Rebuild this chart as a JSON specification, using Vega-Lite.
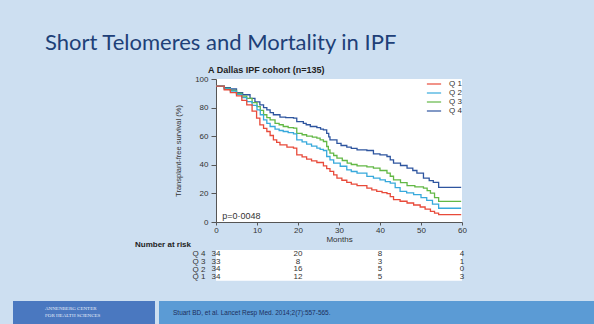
{
  "$schema": "https://vega.github.io/schema/vega-lite/v6.json",
  "background": "#cddff1",
  "padding": {"left": 13, "top": 32, "right": 0, "bottom": 0},
  "title": {"text": "Short Telomeres and Mortality in IPF", "anchor": "start", "frame": "group", "dx": 32, "offset": 11, "font": "Lato", "fontSize": 22, "fontWeight": "normal", "color": "#203f78"},
  "config": {"font": "Liberation Sans", "view": {"stroke": null}, "axis": {"labelOverlap": false}},
  "spacing": 20,
  "resolve": {"scale": {"color": "independent", "x": "independent", "y": "independent"}, "legend": {"color": "independent"}},
  "vconcat": [
    {
      "spacing": 0,
      "resolve": {"scale": {"color": "independent", "x": "independent", "y": "independent"}, "legend": {"color": "independent"}},
      "hconcat": [
        {
          "width": 122,
          "height": 1,
          "view": {"fill": null, "stroke": null},
          "data": {"values": []},
          "mark": "point"
        },
        {
          "spacing": -3,
          "resolve": {"scale": {"color": "independent", "x": "independent", "y": "independent"}, "legend": {"color": "independent"}},
          "vconcat": [
            {
              "width": 246,
              "height": 143,
              "view": {"fill": "white", "stroke": null},
              "title": {"text": "A   Dallas IPF cohort (n=135)", "anchor": "start", "frame": "group", "dx": -8, "offset": 0, "fontSize": 9, "fontWeight": "bold", "color": "#222222", "font": "Liberation Sans"},
              "layer": [
                {
                  "data": {"values": [
                    {"quartile": "Q 4", "month": 0, "survival": 95}, {"quartile": "Q 4", "month": 2, "survival": 94}, {"quartile": "Q 4", "month": 3.5, "survival": 93}, {"quartile": "Q 4", "month": 5, "survival": 90.5}, {"quartile": "Q 4", "month": 6.5, "survival": 89}, {"quartile": "Q 4", "month": 8.3, "survival": 86.5}, {"quartile": "Q 4", "month": 9.5, "survival": 84}, {"quartile": "Q 4", "month": 10.7, "survival": 81.9}, {"quartile": "Q 4", "month": 11.6, "survival": 80}, {"quartile": "Q 4", "month": 12.4, "survival": 78.4}, {"quartile": "Q 4", "month": 13.2, "survival": 76.5}, {"quartile": "Q 4", "month": 14, "survival": 75}, {"quartile": "Q 4", "month": 15.6, "survival": 73.3}, {"quartile": "Q 4", "month": 17, "survival": 73}, {"quartile": "Q 4", "month": 18.9, "survival": 72.6}, {"quartile": "Q 4", "month": 19.7, "survival": 70.2}, {"quartile": "Q 4", "month": 21.3, "survival": 69}, {"quartile": "Q 4", "month": 22, "survival": 68}, {"quartile": "Q 4", "month": 23, "survival": 66.8}, {"quartile": "Q 4", "month": 24.6, "survival": 66}, {"quartile": "Q 4", "month": 25.5, "survival": 65}, {"quartile": "Q 4", "month": 26.2, "survival": 64.4}, {"quartile": "Q 4", "month": 27, "survival": 62}, {"quartile": "Q 4", "month": 27.5, "survival": 59.5}, {"quartile": "Q 4", "month": 27.8, "survival": 57.5}, {"quartile": "Q 4", "month": 29.5, "survival": 55}, {"quartile": "Q 4", "month": 30.5, "survival": 53.5}, {"quartile": "Q 4", "month": 31.9, "survival": 52.3}, {"quartile": "Q 4", "month": 33, "survival": 51.5}, {"quartile": "Q 4", "month": 34.4, "survival": 50.5}, {"quartile": "Q 4", "month": 36.8, "survival": 50}, {"quartile": "Q 4", "month": 38.4, "survival": 47.7}, {"quartile": "Q 4", "month": 40, "survival": 47}, {"quartile": "Q 4", "month": 41.7, "survival": 45.8}, {"quartile": "Q 4", "month": 42.5, "survival": 43.5}, {"quartile": "Q 4", "month": 43.3, "survival": 41.2}, {"quartile": "Q 4", "month": 45, "survival": 39.5}, {"quartile": "Q 4", "month": 46.6, "survival": 37.7}, {"quartile": "Q 4", "month": 48, "survival": 36}, {"quartile": "Q 4", "month": 49, "survival": 34.2}, {"quartile": "Q 4", "month": 50.6, "survival": 30.7}, {"quartile": "Q 4", "month": 52, "survival": 29}, {"quartile": "Q 4", "month": 53, "survival": 27.7}, {"quartile": "Q 4", "month": 54.3, "survival": 24.2}, {"quartile": "Q 4", "month": 59.8, "survival": 24.2},
                    {"quartile": "Q 3", "month": 0, "survival": 95}, {"quartile": "Q 3", "month": 2, "survival": 93.5}, {"quartile": "Q 3", "month": 3.5, "survival": 92}, {"quartile": "Q 3", "month": 5, "survival": 90}, {"quartile": "Q 3", "month": 6.3, "survival": 88}, {"quartile": "Q 3", "month": 7.5, "survival": 86.5}, {"quartile": "Q 3", "month": 8.8, "survival": 83.5}, {"quartile": "Q 3", "month": 10, "survival": 80.7}, {"quartile": "Q 3", "month": 10.8, "survival": 78}, {"quartile": "Q 3", "month": 11.6, "survival": 75}, {"quartile": "Q 3", "month": 12.4, "survival": 73}, {"quartile": "Q 3", "month": 13.2, "survival": 71.4}, {"quartile": "Q 3", "month": 14.4, "survival": 69}, {"quartile": "Q 3", "month": 15.4, "survival": 68}, {"quartile": "Q 3", "month": 16.4, "survival": 66.8}, {"quartile": "Q 3", "month": 17.6, "survival": 66}, {"quartile": "Q 3", "month": 18.9, "survival": 65.6}, {"quartile": "Q 3", "month": 19.7, "survival": 62}, {"quartile": "Q 3", "month": 21, "survival": 61}, {"quartile": "Q 3", "month": 22.1, "survival": 60}, {"quartile": "Q 3", "month": 23.5, "survival": 59.3}, {"quartile": "Q 3", "month": 24.6, "survival": 58.6}, {"quartile": "Q 3", "month": 25.4, "survival": 57.5}, {"quartile": "Q 3", "month": 26.2, "survival": 56.3}, {"quartile": "Q 3", "month": 27, "survival": 52.8}, {"quartile": "Q 3", "month": 27.4, "survival": 50.5}, {"quartile": "Q 3", "month": 27.8, "survival": 48.1}, {"quartile": "Q 3", "month": 28.7, "survival": 46.5}, {"quartile": "Q 3", "month": 29.5, "survival": 44.7}, {"quartile": "Q 3", "month": 30.8, "survival": 43}, {"quartile": "Q 3", "month": 32, "survival": 41.2}, {"quartile": "Q 3", "month": 33, "survival": 40.2}, {"quartile": "Q 3", "month": 34.4, "survival": 39.3}, {"quartile": "Q 3", "month": 36.8, "survival": 38.5}, {"quartile": "Q 3", "month": 38.4, "survival": 37.7}, {"quartile": "Q 3", "month": 40, "survival": 36}, {"quartile": "Q 3", "month": 41.7, "survival": 34.2}, {"quartile": "Q 3", "month": 42.5, "survival": 32}, {"quartile": "Q 3", "month": 43.3, "survival": 29.5}, {"quartile": "Q 3", "month": 45, "survival": 27.5}, {"quartile": "Q 3", "month": 46.6, "survival": 25.4}, {"quartile": "Q 3", "month": 48.5, "survival": 24.5}, {"quartile": "Q 3", "month": 50.6, "survival": 23.7}, {"quartile": "Q 3", "month": 51.5, "survival": 22}, {"quartile": "Q 3", "month": 52.3, "survival": 20.2}, {"quartile": "Q 3", "month": 53.3, "survival": 17}, {"quartile": "Q 3", "month": 54.3, "survival": 14.4}, {"quartile": "Q 3", "month": 59.8, "survival": 14.4},
                    {"quartile": "Q 2", "month": 0, "survival": 95}, {"quartile": "Q 2", "month": 2, "survival": 93}, {"quartile": "Q 2", "month": 3.5, "survival": 91.5}, {"quartile": "Q 2", "month": 5, "survival": 89.3}, {"quartile": "Q 2", "month": 6.3, "survival": 87}, {"quartile": "Q 2", "month": 7.5, "survival": 84.2}, {"quartile": "Q 2", "month": 8.8, "survival": 81.5}, {"quartile": "Q 2", "month": 10, "survival": 78.4}, {"quartile": "Q 2", "month": 10.8, "survival": 75}, {"quartile": "Q 2", "month": 11.6, "survival": 71.4}, {"quartile": "Q 2", "month": 12.4, "survival": 69}, {"quartile": "Q 2", "month": 13.2, "survival": 66.8}, {"quartile": "Q 2", "month": 14.4, "survival": 64.9}, {"quartile": "Q 2", "month": 15.4, "survival": 64}, {"quartile": "Q 2", "month": 16.4, "survival": 63.3}, {"quartile": "Q 2", "month": 17.6, "survival": 62.5}, {"quartile": "Q 2", "month": 18.9, "survival": 61.6}, {"quartile": "Q 2", "month": 19.7, "survival": 57.5}, {"quartile": "Q 2", "month": 21, "survival": 56}, {"quartile": "Q 2", "month": 22.1, "survival": 54.4}, {"quartile": "Q 2", "month": 23.3, "survival": 53}, {"quartile": "Q 2", "month": 24.6, "survival": 51.6}, {"quartile": "Q 2", "month": 25.4, "survival": 50.8}, {"quartile": "Q 2", "month": 26.2, "survival": 50}, {"quartile": "Q 2", "month": 27, "survival": 45.8}, {"quartile": "Q 2", "month": 27.8, "survival": 43.5}, {"quartile": "Q 2", "month": 28.7, "survival": 41.2}, {"quartile": "Q 2", "month": 30.3, "survival": 39}, {"quartile": "Q 2", "month": 31.9, "survival": 36.5}, {"quartile": "Q 2", "month": 33, "survival": 35.3}, {"quartile": "Q 2", "month": 34.4, "survival": 34.2}, {"quartile": "Q 2", "month": 36.8, "survival": 31.9}, {"quartile": "Q 2", "month": 38.4, "survival": 30.7}, {"quartile": "Q 2", "month": 40, "survival": 29.5}, {"quartile": "Q 2", "month": 41.3, "survival": 28.3}, {"quartile": "Q 2", "month": 42.5, "survival": 27.2}, {"quartile": "Q 2", "month": 43.7, "survival": 24}, {"quartile": "Q 2", "month": 44.9, "survival": 21.4}, {"quartile": "Q 2", "month": 46.5, "survival": 20.3}, {"quartile": "Q 2", "month": 48.2, "survival": 19.1}, {"quartile": "Q 2", "month": 50, "survival": 17}, {"quartile": "Q 2", "month": 51.4, "survival": 15.1}, {"quartile": "Q 2", "month": 52.8, "survival": 12.5}, {"quartile": "Q 2", "month": 54.3, "survival": 9.6}, {"quartile": "Q 2", "month": 59.8, "survival": 9.6},
                    {"quartile": "Q 1", "month": 0, "survival": 95}, {"quartile": "Q 1", "month": 2, "survival": 92.5}, {"quartile": "Q 1", "month": 3.5, "survival": 90.5}, {"quartile": "Q 1", "month": 5, "survival": 88.2}, {"quartile": "Q 1", "month": 6.3, "survival": 85}, {"quartile": "Q 1", "month": 7.5, "survival": 81.9}, {"quartile": "Q 1", "month": 8.8, "survival": 77.5}, {"quartile": "Q 1", "month": 9.9, "survival": 72.6}, {"quartile": "Q 1", "month": 10.7, "survival": 67.9}, {"quartile": "Q 1", "month": 11.6, "survival": 65.5}, {"quartile": "Q 1", "month": 12.4, "survival": 63.3}, {"quartile": "Q 1", "month": 13.2, "survival": 60.5}, {"quartile": "Q 1", "month": 14, "survival": 57.5}, {"quartile": "Q 1", "month": 14.8, "survival": 55.7}, {"quartile": "Q 1", "month": 15.6, "survival": 54}, {"quartile": "Q 1", "month": 17.3, "survival": 52.3}, {"quartile": "Q 1", "month": 18.9, "survival": 51.6}, {"quartile": "Q 1", "month": 19.7, "survival": 47}, {"quartile": "Q 1", "month": 21, "survival": 45.5}, {"quartile": "Q 1", "month": 22.1, "survival": 44}, {"quartile": "Q 1", "month": 23.3, "survival": 42.8}, {"quartile": "Q 1", "month": 24.6, "survival": 41.6}, {"quartile": "Q 1", "month": 26.2, "survival": 39.3}, {"quartile": "Q 1", "month": 27, "survival": 37.3}, {"quartile": "Q 1", "month": 27.8, "survival": 35.4}, {"quartile": "Q 1", "month": 28.7, "survival": 33}, {"quartile": "Q 1", "month": 29.5, "survival": 30.7}, {"quartile": "Q 1", "month": 30.7, "survival": 29.2}, {"quartile": "Q 1", "month": 31.9, "survival": 27.7}, {"quartile": "Q 1", "month": 33, "survival": 26.5}, {"quartile": "Q 1", "month": 34.4, "survival": 25.4}, {"quartile": "Q 1", "month": 36.8, "survival": 23.7}, {"quartile": "Q 1", "month": 38, "survival": 22.5}, {"quartile": "Q 1", "month": 39.2, "survival": 21.4}, {"quartile": "Q 1", "month": 40.5, "survival": 20.5}, {"quartile": "Q 1", "month": 41.7, "survival": 19.8}, {"quartile": "Q 1", "month": 42.5, "survival": 17.7}, {"quartile": "Q 1", "month": 43.3, "survival": 15.6}, {"quartile": "Q 1", "month": 44.9, "survival": 14.5}, {"quartile": "Q 1", "month": 46.6, "survival": 13.3}, {"quartile": "Q 1", "month": 48.2, "survival": 11.9}, {"quartile": "Q 1", "month": 49.8, "survival": 10.5}, {"quartile": "Q 1", "month": 51, "survival": 9}, {"quartile": "Q 1", "month": 52.3, "survival": 7.4}, {"quartile": "Q 1", "month": 53.3, "survival": 6.2}, {"quartile": "Q 1", "month": 54.3, "survival": 5.1}, {"quartile": "Q 1", "month": 59.8, "survival": 5.1}
                  ]},
                  "mark": {"type": "line", "interpolate": "step-after", "strokeWidth": 1.3},
                  "encoding": {
                    "x": {"field": "month", "type": "quantitative", "scale": {"domain": [0, 60], "nice": false},
                          "axis": {"values": [0, 10, 20, 30, 40, 50, 60], "title": "Months", "titleFontSize": 8, "titleFontWeight": "normal", "titlePadding": 1, "titleColor": "#333333", "labelFontSize": 8, "labelColor": "#333333", "labelPadding": 1, "tickSize": 3, "grid": false, "domainColor": "#555555", "tickColor": "#555555", "labelFlush": false, "labelOverlap": false}},
                    "y": {"field": "survival", "type": "quantitative", "scale": {"domain": [0, 100], "nice": false},
                          "axis": {"values": [0, 20, 40, 60, 80, 100], "title": "Transplant-free survival (%)", "titleFontSize": 7.5, "titleFontWeight": "normal", "titlePadding": 12, "titleColor": "#333333", "labelFontSize": 8, "labelColor": "#333333", "labelPadding": 3, "tickSize": 5, "grid": false, "domainColor": "#555555", "tickColor": "#555555", "labelOverlap": false, "labelFlush": false}},
                    "color": {"field": "quartile", "type": "nominal",
                              "scale": {"domain": ["Q 1", "Q 2", "Q 3", "Q 4"], "range": ["#e84a3a", "#37a9dc", "#62b845", "#2e559f"]},
                              "legend": {"title": null, "orient": "top-right", "offset": 0, "padding": 0, "labelFontSize": 8, "labelColor": "#333333", "symbolType": "M-1.7,0H1.7", "symbolSize": 70, "symbolStrokeWidth": 1.2, "rowPadding": 0, "labelOffset": 10}}
                  }
                },
                {
                  "data": {"values": [{"label": "p=0·0048"}]},
                  "mark": {"type": "text", "align": "left", "baseline": "middle", "fontSize": 9, "color": "#333333"},
                  "encoding": {
                    "x": {"datum": 1.5, "type": "quantitative",
                          "axis": {"values": [0, 10, 20, 30, 40, 50, 60], "title": "Months", "titleFontSize": 8, "titleFontWeight": "normal", "titlePadding": 1, "titleColor": "#333333", "labelFontSize": 8, "labelColor": "#333333", "labelPadding": 1, "tickSize": 3, "grid": false, "domainColor": "#555555", "tickColor": "#555555", "labelFlush": false, "labelOverlap": false}},
                    "y": {"datum": 4.5, "type": "quantitative",
                          "axis": {"values": [0, 20, 40, 60, 80, 100], "title": "Transplant-free survival (%)", "titleFontSize": 7.5, "titleFontWeight": "normal", "titlePadding": 12, "titleColor": "#333333", "labelFontSize": 8, "labelColor": "#333333", "labelPadding": 3, "tickSize": 5, "grid": false, "domainColor": "#555555", "tickColor": "#555555", "labelOverlap": false, "labelFlush": false}},
                    "text": {"field": "label"}
                  }
                }
              ]
            },
            {
              "width": 246,
              "height": 30.8,
              "view": {"fill": "white", "stroke": null},
              "title": {"text": "Number at risk", "anchor": "start", "frame": "group", "dx": -81, "offset": 1, "fontSize": 8, "fontWeight": "bold", "color": "#222222"},
              "data": {"values": [
                {"quartile": "Q 4", "month": 0, "n": 34}, {"quartile": "Q 4", "month": 20, "n": 20}, {"quartile": "Q 4", "month": 40, "n": 8}, {"quartile": "Q 4", "month": 60, "n": 4},
                {"quartile": "Q 3", "month": 0, "n": 33}, {"quartile": "Q 3", "month": 20, "n": 8}, {"quartile": "Q 3", "month": 40, "n": 3}, {"quartile": "Q 3", "month": 60, "n": 1},
                {"quartile": "Q 2", "month": 0, "n": 34}, {"quartile": "Q 2", "month": 20, "n": 16}, {"quartile": "Q 2", "month": 40, "n": 5}, {"quartile": "Q 2", "month": 60, "n": 0},
                {"quartile": "Q 1", "month": 0, "n": 34}, {"quartile": "Q 1", "month": 20, "n": 12}, {"quartile": "Q 1", "month": 40, "n": 5}, {"quartile": "Q 1", "month": 60, "n": 3}
              ]},
              "mark": {"type": "text", "fontSize": 8, "color": "#333333"},
              "encoding": {
                "x": {"field": "month", "type": "quantitative", "scale": {"domain": [0, 60], "nice": false}, "axis": null},
                "y": {"field": "quartile", "type": "nominal", "sort": ["Q 4", "Q 3", "Q 2", "Q 1"], "scale": {"type": "point", "padding": 0.5},
                      "axis": {"title": null, "domain": false, "ticks": false, "labelPadding": 11, "labelFontSize": 8, "labelColor": "#333333"}},
                "text": {"field": "n", "type": "quantitative"}
              }
            }
          ]
        }
      ]
    },
    {
      "spacing": 4,
      "hconcat": [
        {
          "width": 142,
          "height": 24,
          "view": {"fill": "#4a78c0", "stroke": null},
          "data": {"values": [{"t": "ANNENBERG CENTER\nFOR HEALTH SCIENCES"}]},
          "mark": {"type": "text", "align": "left", "baseline": "middle", "dx": -39, "dy": -5, "fontSize": 5, "lineBreak": "\n", "color": "#e6eefa", "font": "Liberation Serif"},
          "encoding": {"text": {"field": "t"}}
        },
        {
          "width": 435,
          "height": 24,
          "view": {"fill": "#5b9bd5", "stroke": null},
          "data": {"values": [{"t": "Stuart BD, et al. Lancet Resp Med. 2014;2(7):557-565."}]},
          "mark": {"type": "text", "align": "left", "baseline": "middle", "dx": -203.5, "fontSize": 6.5, "color": "#1d2f5c"},
          "encoding": {"text": {"field": "t"}}
        }
      ]
    }
  ]
}
